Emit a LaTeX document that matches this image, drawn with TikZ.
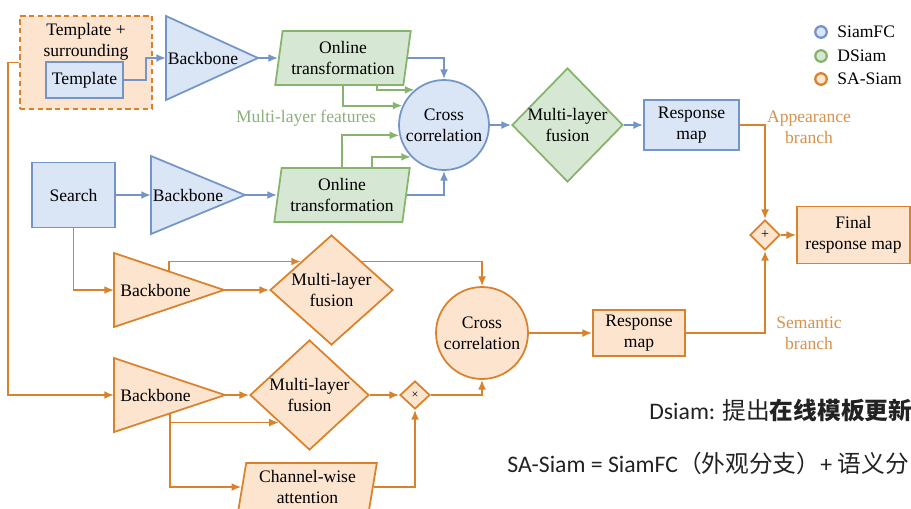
\documentclass[tikz,border=0pt]{standalone}
\usepackage{fontspec}
\setmainfont{Liberation Serif}
\newfontfamily\carlito{Carlito}
\newfontfamily\cjk{Noto Sans CJK SC}
\usetikzlibrary{shapes.geometric,arrows.meta,calc}
\definecolor{bdraw}{HTML}{7495C8}
\definecolor{bfill}{HTML}{DAE5F6}
\definecolor{gdraw}{HTML}{86B46C}
\definecolor{gfill}{HTML}{D6E8D3}
\definecolor{odraw}{HTML}{D9822B}
\definecolor{ofill}{HTML}{FDE4CE}
\definecolor{otext}{HTML}{D8924A}
\definecolor{gtext}{HTML}{8DB07B}
\definecolor{dtext}{HTML}{222222}
\begin{document}
\begin{tikzpicture}[x=0.02cm,y=-0.02cm,
  font=\fontsize{10}{12}\selectfont,
  bshape/.style={draw=bdraw,fill=bfill,line width=1pt},
  gshape/.style={draw=gdraw,fill=gfill,line width=1pt},
  oshape/.style={draw=odraw,fill=ofill,line width=1pt},
  box/.style={rectangle,inner sep=0pt,align=center},
  dia/.style={diamond,inner sep=0.5pt},
  para/.style={trapezium,trapezium left angle=80,trapezium right angle=100,trapezium stretches=true,inner sep=1pt,align=center},
  circ/.style={circle,inner sep=0pt,align=center},
  lbl/.style={align=center,inner sep=0pt},
  tip/.style={-{Latex[length=5.5pt,width=4.5pt]}},
  bline/.style={draw=bdraw,line width=1pt},
  gline/.style={draw=gdraw,line width=1pt},
  oline/.style={draw=odraw,line width=1pt},
  legc/.style={circle,line width=1.3pt,minimum size=0.23cm,inner sep=0pt},
]
\useasboundingbox (0,0) rectangle (911,508);
\fill[white] (0,0) rectangle (911,508);
\clip (0,0) rectangle (911,508);

% ---- top (SiamFC / DSiam) ----
\node[box,oshape,dashed,dash pattern=on 3pt off 2pt,minimum width=2.64cm,minimum height=1.86cm] (tsur) at (86,62.5) {};
\node[lbl] (tsurtxt) at (86,42) {Template +\\surrounding};
\node[box,bshape,minimum width=1.54cm,minimum height=0.72cm] (tmpl) at (84.5,80) {Template};

\draw[bshape] (166,16) -- (258,58) -- (166,100) -- cycle;
\coordinate (bb1in) at (166,58);
\coordinate (bb1out) at (258,58);
\node[lbl,anchor=west] (bb1) at (167.5,58) {Backbone};

\node[para,gshape,minimum width=2.72cm,minimum height=1.08cm] (ot1) at (343,58) {Online\\transformation};

\node[circ,bshape,minimum size=1.8cm] (cc1) at (444,125) {Cross\\correlation};
\node[dia,gshape,minimum width=2.22cm,minimum height=2.28cm] (md1) at (567.5,125) {};
\node[lbl] (md1t) at (md1) {Multi-layer\\fusion};
\node[box,bshape,minimum width=1.9cm,minimum height=1.0cm] (rm1) at (691.5,125) {Response\\map};

\node[dia,oshape,minimum width=0.6cm,minimum height=0.6cm] (plus) at (765,235) {};
\node[lbl,font=\footnotesize] (plust) at (plus) {+};
\node[box,oshape,minimum width=2.26cm,minimum height=1.14cm] (final) at (853.5,235) {Final\\response map};

\node[box,bshape,minimum width=1.66cm,minimum height=1.3cm] (search) at (73.5,195) {Search};
\draw[bshape] (151,156) -- (245,195) -- (151,234) -- cycle;
\coordinate (bb2in) at (151,195);
\coordinate (bb2out) at (245,195);
\node[lbl,anchor=west] (bb2) at (152.5,195) {Backbone};
\node[para,gshape,minimum width=2.72cm,minimum height=1.08cm] (ot2) at (342,195) {Online\\transformation};

% ---- SA-Siam semantic part ----
\draw[oshape] (114,253) -- (224,290) -- (114,327) -- cycle;
\coordinate (bb3in) at (114,290);
\coordinate (bb3out) at (224,290);
\coordinate (bb3top) at (169,271.5);
\node[lbl,anchor=west] (bb3) at (120,290) {Backbone};
\node[dia,oshape,minimum width=2.46cm,minimum height=2.2cm] (md2) at (331.5,290) {};
\node[lbl] (md2t) at (md2) {Multi-layer\\fusion};
\node[circ,oshape,minimum size=1.84cm] (cc2) at (482,333) {Cross\\correlation};
\node[box,oshape,minimum width=1.84cm,minimum height=0.92cm] (rm2) at (639,333) {Response\\map};

\draw[oshape] (114,358) -- (225,395) -- (114,432) -- cycle;
\coordinate (bb4in) at (114,395);
\coordinate (bb4out) at (225,395);
\coordinate (bb4bot) at (170,413.3);
\node[lbl,anchor=west] (bb4) at (120,395) {Backbone};
\node[dia,oshape,minimum width=2.38cm,minimum height=2.2cm] (md3) at (309.5,395) {};
\node[lbl] (md3t) at (md3) {Multi-layer\\fusion};
\node[dia,oshape,minimum width=0.6cm,minimum height=0.56cm] (times) at (415,395) {};
\node[lbl,font=\scriptsize] (timest) at (times) {×};
\node[para,oshape,minimum width=2.78cm,minimum height=0.96cm] (cwa) at (307.5,487) {Channel-wise\\attention};

% ---- connectors ----
\draw[bline,tip] (tmpl.east) -- ++(22,0) |- (bb1in);
\draw[bline,tip] (bb1out) -- (ot1.west);
\draw[bline,tip] (ot1.east) -| (cc1.north);
\draw[gline,tip] (ot1.south) |- (cc1.155);
\draw[gline,tip] ($(ot1.south)+(34,0)$) |- (cc1.130);
\draw[gline,tip] (ot2.north) |- (cc1.193);
\draw[gline,tip] ($(ot2.north)+(30,0)$) |- (cc1.224);
\draw[bline,tip] (ot2.east) -| (cc1.south);
\draw[bline,tip] (cc1.east) -- (md1.west);
\draw[bline,tip] (md1.east) -- (rm1.west);
\draw[oline,tip] (rm1.east) -| (plus.north);
\draw[oline,tip] (plus.east) -- (final.west);
\draw[bline,tip] (search.east) -- (bb2in);
\draw[bline,tip] (bb2out) -- (ot2.west);
\draw[oline,tip] (search.south) |- (bb3in);
\draw[oline,tip] (bb3out) -- (md2.west);
\draw[oline,tip] (bb3top) |- (md2.137);
\draw[oline,tip] (md2.43) -| (cc2.north);
\draw[oline,tip] (tsur.west) -- ++(-11,0) |- (bb4in);
\draw[oline,tip] (bb4out) -- (md3.west);
\draw[oline,tip] (bb4bot) |- (md3.222);
\draw[oline,tip] (bb4bot) |- (cwa.west);
\draw[oline,tip] (md3.east) -- (times.west);
\draw[oline,tip] (times.east) -| (cc2.south);
\draw[oline,tip] (cwa.east) -| (times.south);
\draw[oline,tip] (cc2.east) -- (rm2.west);
\draw[oline,tip] (rm2.east) -| (plus.south);

% ---- labels ----
\node[lbl,text=gtext] (mlf) at (306,118) {Multi-layer features};
\node[lbl,text=otext] (app) at (809,127) {Appearance\\branch};
\node[lbl,text=otext] (sem) at (809,333) {Semantic\\branch};

% ---- legend ----
\node[legc,draw=bdraw,fill=bfill] (lg1) at (821,32) {};
\node[lbl,anchor=west] (lg1t) at (837,32) {SiamFC};
\node[legc,draw=gdraw,fill=gfill] (lg2) at (821,56) {};
\node[lbl,anchor=west] (lg2t) at (837,56) {DSiam};
\node[legc,draw=odraw,fill=ofill] (lg3) at (821,79) {};
\node[lbl,anchor=west] (lg3t) at (837,79) {SA-Siam};

% ---- notes ----
\node[anchor=west,inner sep=0pt,text=dtext,font=\fontsize{13.5}{16}\selectfont] (note1) at (649,410) {\carlito Dsiam: \cjk 提出\bfseries 在线模板更新};
\node[anchor=west,inner sep=0pt,text=dtext,font=\fontsize{13.5}{16}\selectfont] (note2) at (507,463) {\carlito SA-Siam = SiamFC\cjk （外观分支）\carlito + \cjk 语义分};
\end{tikzpicture}
\end{document}
